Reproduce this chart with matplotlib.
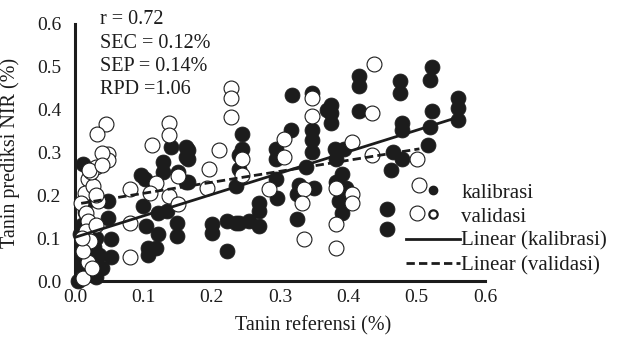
import matplotlib
matplotlib.use("Agg")
import matplotlib.pyplot as plt
from matplotlib.lines import Line2D
import numpy as np

plt.rcParams['font.family'] = ['Liberation Serif', 'DejaVu Serif']

# ---- data ----
kal_x = [0.522, 0.519, 0.416, 0.416, 0.475, 0.475, 0.56, 0.56, 0.56, 0.522,
         0.416, 0.375, 0.375, 0.375, 0.478, 0.479, 0.519, 0.516, 0.38, 0.394,
         0.465, 0.478, 0.463, 0.318, 0.347, 0.316, 0.244, 0.347, 0.347, 0.347,
         0.294, 0.294, 0.338, 0.39, 0.382, 0.294, 0.328, 0.35, 0.244, 0.382,
         0.24, 0.24, 0.296, 0.325, 0.397, 0.387, 0.39, 0.269, 0.269, 0.269,
         0.325, 0.24, 0.456, 0.456, 0.166, 0.235, 0.20, 0.20, 0.222, 0.222,
         0.166, 0.166, 0.369, 0.141, 0.163, 0.162, 0.129, 0.129, 0.151, 0.103,
         0.162, 0.049, 0.049, 0.10, 0.122, 0.134, 0.104, 0.122, 0.149, 0.149,
         0.053, 0.107, 0.119, 0.107, 0.053, 0.012, 0.096, 0.235, 0.254,
         0.01, 0.015, 0.02, 0.01, 0.025, 0.03, 0.005, 0.02, 0.035, 0.04,
         0.01, 0.03, 0.015, 0.02, 0.008, 0.028, 0.018, 0.012]
kal_y = [0.50, 0.469, 0.478, 0.455, 0.467, 0.439, 0.428, 0.405, 0.375, 0.398,
         0.398, 0.411, 0.393, 0.37, 0.37, 0.352, 0.359, 0.317, 0.308, 0.308,
         0.301, 0.285, 0.26, 0.434, 0.439, 0.352, 0.343, 0.352, 0.329, 0.301,
         0.308, 0.285, 0.267, 0.25, 0.232, 0.239, 0.225, 0.216, 0.308, 0.285,
         0.294, 0.262, 0.193, 0.202, 0.216, 0.186, 0.159, 0.182, 0.163, 0.129,
         0.145, 0.136, 0.168, 0.122, 0.232, 0.221, 0.133, 0.113, 0.14, 0.071,
         0.306, 0.285, 0.40, 0.313, 0.313, 0.29, 0.278, 0.255, 0.255, 0.237,
         0.232, 0.186, 0.147, 0.175, 0.159, 0.163, 0.129, 0.11, 0.136, 0.106,
         0.099, 0.078, 0.076, 0.06, 0.055, 0.274, 0.248, 0.136, 0.14,
         0.05, 0.02, 0.07, 0.09, 0.04, 0.01, 0.0, 0.12, 0.06, 0.03,
         0.13, 0.10, 0.16, 0.19, 0.11, 0.08, 0.05, 0.03]

val_x = [0.438, 0.229, 0.229, 0.229, 0.435, 0.347, 0.347, 0.306, 0.306, 0.406,
         0.435, 0.501, 0.504, 0.501, 0.244, 0.244, 0.284, 0.382, 0.335, 0.332,
         0.406, 0.406, 0.382, 0.335, 0.382, 0.21, 0.196, 0.193, 0.046, 0.032,
         0.137, 0.137, 0.112, 0.049, 0.049, 0.031, 0.019, 0.151, 0.118, 0.081,
         0.081, 0.081, 0.019, 0.012, 0.015, 0.009, 0.016, 0.019, 0.016, 0.11,
         0.137, 0.151, 0.022, 0.012, 0.026, 0.034, 0.024, 0.04, 0.03, 0.02,
         0.04, 0.01, 0.03, 0.025]
val_y = [0.506, 0.45, 0.428, 0.382, 0.393, 0.428, 0.386, 0.331, 0.29, 0.324,
         0.294, 0.285, 0.225, 0.159, 0.285, 0.248, 0.214, 0.216, 0.214, 0.182,
         0.202, 0.182, 0.133, 0.099, 0.078, 0.306, 0.262, 0.216, 0.366, 0.343,
         0.37, 0.34, 0.317, 0.297, 0.283, 0.267, 0.237, 0.244, 0.228, 0.214,
         0.136, 0.055, 0.044, 0.007, 0.205, 0.182, 0.159, 0.14, 0.117, 0.205,
         0.198, 0.179, 0.094, 0.071, 0.221, 0.186, 0.255, 0.30, 0.20, 0.26,
         0.27, 0.10, 0.13, 0.03]

# trendline parameters
kal_slope, kal_intercept = 0.50, 0.102
val_slope, val_intercept = 0.257, 0.179

stats_text = ["r = 0.72", "SEC = 0.12%", "SEP = 0.14%", "RPD =1.06"]
x_ticks = [0.0, 0.1, 0.2, 0.3, 0.4, 0.5, 0.6]
y_ticks = [0.0, 0.1, 0.2, 0.3, 0.4, 0.5, 0.6]

# ---- figure ----
W, H = 617, 338
fig = plt.figure(figsize=(W / 100, H / 100), dpi=100)
ax = fig.add_axes([75 / W, 1 - 281 / H, 410 / W, 257 / H])

ax.scatter(kal_x, kal_y, s=115, c='#1c1c1c', edgecolors='#1c1c1c',
           linewidths=0.6, zorder=2, clip_on=False)
ax.scatter(val_x, val_y, s=115, c='white', edgecolors='#1c1c1c',
           linewidths=0.8, zorder=3, clip_on=False)

kx = np.array([0.0, max(kal_x)])
vx = np.array([min(val_x), max(val_x)])
ax.plot(kx, kal_slope * kx + kal_intercept, color='#1c1c1c', lw=2.0, zorder=4)
ax.plot(vx, val_slope * vx + val_intercept, color='#1c1c1c', lw=2.0,
        ls=(0, (3, 1.5)), zorder=4)

ax.set_xlim(0, 0.6)
ax.set_ylim(0, 0.6)
ax.set_xticks(x_ticks)
ax.set_yticks(y_ticks)
ax.set_xticklabels([f"{v:.1f}" for v in x_ticks])
ax.set_yticklabels([f"{v:.1f}" for v in y_ticks])
ax.tick_params(length=0, labelsize=14, colors='#1c1c1c')
ax.tick_params(axis='y', pad=10)
ax.tick_params(axis='x', pad=6)
for s in ['top', 'right']:
    ax.spines[s].set_visible(False)
for s in ['left', 'bottom']:
    ax.spines[s].set_linewidth(2.2)
    ax.spines[s].set_color('#1c1c1c')
ax.patch.set_alpha(0)

ax.set_xlabel("Tanin referensi (%)", fontsize=14.5, color='#1c1c1c')
ax.set_ylabel("Tanin prediksi NIR (%)", fontsize=14.5, color='#1c1c1c')
ax.xaxis.set_label_coords(0.58, -0.135)
ax.yaxis.set_label_coords(-0.135, 0.5)

for i, t in enumerate(stats_text):
    fig.text(100 / W, 1 - (20 + i * 23.3) / H, t, fontsize=14.5,
             va='center', ha='left', color='#1c1c1c')

handles = [
    Line2D([], [], ls='none', marker='o', ms=6, mfc='#1c1c1c', mec='#1c1c1c'),
    Line2D([], [], ls='none', marker='o', ms=6, mfc='white', mec='#1c1c1c', mew=1.6),
    Line2D([], [], color='#1c1c1c', lw=2.0),
    Line2D([], [], color='#1c1c1c', lw=2.0, ls=(0, (3, 1.5))),
]
labels = ["kalibrasi", "validasi", "Linear (kalibrasi)", "Linear (validasi)"]
fig.legend(handles, labels, loc='center left',
           bbox_to_anchor=(406 / W, 1 - 229 / H), frameon=False,
           fontsize=15, handlelength=2.6, handletextpad=0.05,
           labelspacing=0.22, borderpad=0, borderaxespad=0,
           labelcolor='#1c1c1c')

fig.savefig("out.png", dpi=100)
